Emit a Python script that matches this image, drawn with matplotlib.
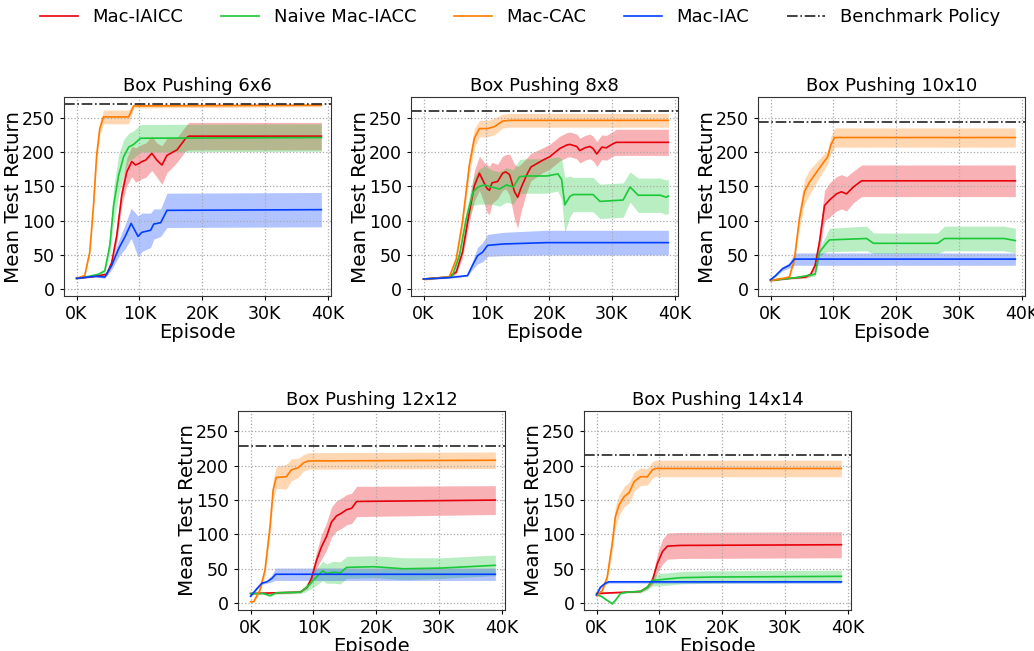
import numpy as np
import matplotlib
matplotlib.use("Agg")
import matplotlib.pyplot as plt
from matplotlib.ticker import FuncFormatter

# colours (seaborn "bright")
C_IAICC = '#e8000b'
C_NAIVE = '#1ac938'
C_CAC = '#ff7c00'
C_IAC = '#023eff'

titles = ['Box Pushing 6x6', 'Box Pushing 8x8', 'Box Pushing 10x10',
          'Box Pushing 12x12', 'Box Pushing 14x14']
benchmark = [270, 260, 244, 229, 216]

# ---------------- 6x6 ----------------
x6_iaicc = [0, 3, 4.8, 5.6, 6.4, 7.2, 8, 8.8, 9.4, 9.9, 10.4, 11, 11.5, 12, 12.8, 13.6, 14.4, 15.2, 16, 17.4, 17.9, 39]
m6_iaicc = [16, 19, 22, 39, 78, 137, 171, 186, 181, 183, 186, 188, 193, 198, 188, 181, 195, 199, 203, 220, 223, 223]
s6_iaicc = [1, 1, 2, 5, 10, 15, 20, 22, 25, 25, 25, 25, 25, 25, 25, 28, 25, 22, 18, 18, 20, 20]
x6_naive = [0, 2, 3.5, 4.5, 5.3, 5.9, 6.7, 7.5, 8.3, 9.1, 10.2, 39]
m6_naive = [16, 19, 22, 27, 64, 122, 166, 193, 207, 211, 220, 221]
s6_naive = [1, 1, 2, 3, 12, 25, 30, 25, 20, 20, 20, 20]
x6_cac = [0, 1.3, 2.1, 2.7, 3.2, 3.7, 4.3, 8.3, 9.1, 39]
m6_cac = [16, 20, 54, 122, 195, 234, 251, 251, 267, 268]
s6_cac = [1, 1, 4, 8, 10, 10, 10, 10, 3, 2]
x6_iac = [0, 3, 4.5, 5.6, 6.7, 7.8, 8.7, 9.8, 10.4, 11.8, 12.3, 13.4, 14.4, 39]
m6_iac = [16, 19, 18, 35, 59, 78, 96, 77, 83, 86, 95, 97, 115, 116]
s6_iac = [1, 1, 2, 6, 12, 18, 22, 30, 28, 25, 22, 20, 25, 25]

# ---------------- 8x8 ----------------
x8_iaicc = [0, 4, 5.2, 6.2, 7.3, 8.1, 8.9, 9.7, 10.1, 10.5, 10.9, 11.8, 12.6, 13.1, 13.7, 14.5, 15, 15.5, 16.4, 17.1,
            19, 20.1, 21.7, 22.8, 23.3, 24.4, 24.9, 25.7, 26.5, 27, 27.6, 28.4, 29.1, 30.2, 30.7, 39]
m8_iaicc = [15, 18, 25, 54, 113, 151, 169, 154, 147, 144, 155, 157, 169, 171, 167, 142, 134, 147, 166, 178,
            188, 193, 205, 210, 211, 208, 202, 206, 208, 205, 197, 207, 206, 212, 214, 214]
s8_iaicc = [1, 1, 3, 8, 15, 22, 25, 30, 35, 35, 30, 25, 25, 25, 30, 40, 45, 35, 25, 20,
            18, 18, 18, 18, 18, 18, 18, 18, 18, 18, 18, 18, 18, 18, 19, 19]
x8_naive = [0, 4, 4.6, 5.7, 6.8, 7.9, 8.7, 9.7, 10.8, 12.1, 13.2, 14.3, 15.3, 16.3, 19.6, 21.4, 22, 22.5,
            23.3, 23.8, 27, 28.1, 31.8, 32.9, 34.2, 37.7, 38.7, 39]
m8_naive = [15, 18, 20, 49, 103, 142, 149, 152, 149, 146, 152, 149, 164, 165, 165, 168, 160, 123,
            135, 138, 138, 128, 130, 149, 137, 137, 134, 136]
s8_naive = [1, 1, 2, 6, 12, 20, 25, 28, 25, 25, 25, 25, 25, 25, 25, 25, 30, 40,
            30, 25, 25, 25, 25, 22, 25, 25, 25, 25]
x8_cac = [0, 3, 4.1, 5.2, 6.2, 7.3, 8.1, 8.9, 10.2, 11.3, 12.6, 13.7, 39]
m8_cac = [15, 17, 18, 44, 98, 181, 220, 234, 234, 237, 245, 246, 246]
s8_cac = [2, 1, 2, 5, 10, 14, 14, 12, 12, 12, 10, 10, 10]
x8_iac = [0, 4, 7, 7.8, 8.6, 9.4, 10.2, 12.7, 19.6, 39]
m8_iac = [15, 17, 20, 35, 49, 54, 64, 66, 68, 68]
s8_iac = [1, 1, 1, 6, 12, 14, 16, 17, 18, 18]

# ---------------- 10x10 ----------------
x10_iaicc = [0, 3, 5.6, 6.4, 7.1, 7.8, 8.6, 9.4, 10.5, 11.3, 12.1, 13.2, 14.5, 39]
m10_iaicc = [13, 16, 18, 22, 35, 69, 122, 130, 139, 142, 139, 149, 158, 158]
s10_iaicc = [1, 1, 2, 3, 6, 15, 22, 25, 25, 25, 25, 23, 23, 23]
x10_naive = [0, 4, 7.1, 7.8, 8.8, 9.4, 15.3, 16.4, 26.6, 27.7, 37.2, 39]
m10_naive = [13, 17, 22, 54, 66, 72, 74, 67, 67, 74, 74, 71]
s10_naive = [1, 1, 3, 6, 12, 17, 18, 15, 15, 18, 18, 18]
x10_cac = [0, 2, 3, 3.8, 4.6, 5.4, 6.2, 7.2, 8.3, 9.1, 9.6, 10.2, 39]
m10_cac = [13, 16, 18, 44, 103, 142, 156, 169, 183, 193, 210, 221, 221]
s10_cac = [1, 1, 2, 6, 14, 18, 18, 15, 12, 10, 12, 14, 14]
x10_iac = [0, 0.8, 1.9, 3, 3.8, 39]
m10_iac = [14, 20, 30, 35, 44, 44]
s10_iac = [1, 2, 3, 4, 9, 9]

# ---------------- 12x12 ----------------
x12_iaicc = [0, 7.9, 9, 9.7, 10.5, 11.3, 12.1, 12.9, 13.7, 14.5, 15.3, 16.1, 16.9, 39]
m12_iaicc = [14, 16, 23, 36, 62, 82, 97, 118, 127, 131, 136, 138, 148, 150]
s12_iaicc = [1, 1, 2, 6, 12, 18, 20, 22, 22, 22, 22, 22, 22, 21]
x12_naive = [0, 2, 3.1, 4.1, 7.9, 8.7, 9.5, 10.5, 11.5, 12.1, 13.2, 14.3, 15.3, 19.6, 24.4, 30.3, 39]
m12_naive = [14, 14, 11, 15, 16, 21, 28, 38, 47, 43, 45, 44, 52, 53, 50, 51, 55]
s12_naive = [1, 1, 2, 2, 2, 5, 8, 12, 14, 14, 16, 16, 16, 16, 16, 15, 15]
x12_cac = [0, 0.5, 1.5, 2.3, 3.1, 3.6, 4.1, 5.7, 6.5, 7.6, 8.4, 9.2, 39]
m12_cac = [2, 2, 19, 48, 111, 165, 183, 184, 194, 197, 204, 207, 208]
s12_cac = [1, 1, 4, 8, 12, 15, 16, 18, 16, 14, 12, 12, 12]
x12_iac = [0, 1, 1.8, 2.6, 3.4, 4, 39]
m12_iac = [10, 21, 29, 31, 36, 42, 42]
s12_iac = [1, 2, 2, 2, 5, 9, 9]

# ---------------- 14x14 ----------------
x14_iaicc = [0, 7, 8.1, 8.9, 9.7, 10.5, 11.3, 13.4, 39]
m14_iaicc = [14, 17, 23, 33, 58, 75, 83, 84, 85]
s14_iaicc = [1, 1, 2, 6, 14, 18, 19, 19, 19]
x14_naive = [0, 0.9, 1.7, 2.5, 3, 3.8, 4.9, 7, 8.1, 8.9, 10, 13.4, 18.7, 39]
m14_naive = [13, 9, 4, -1, 4, 14, 16, 17, 23, 33, 34, 37, 38, 39]
s14_naive = [1, 1, 1, 1, 1, 1, 1, 2, 4, 8, 9, 9, 9, 9]
x14_cac = [0, 0.9, 1.7, 2.5, 3, 3.6, 4.4, 5.2, 6, 7, 8.1, 8.9, 9.4, 39]
m14_cac = [11, 18, 38, 87, 126, 143, 155, 161, 177, 184, 184, 194, 196, 196]
s14_cac = [2, 3, 6, 12, 15, 15, 15, 15, 14, 13, 12, 12, 12, 12]
x14_iac = [0, 0.6, 1.4, 2, 39]
m14_iac = [12, 23, 29, 31, 31]
s14_iac = [1, 2, 2, 2, 2]

panels = [
    [(x6_iaicc, m6_iaicc, s6_iaicc), (x6_naive, m6_naive, s6_naive), (x6_cac, m6_cac, s6_cac), (x6_iac, m6_iac, s6_iac)],
    [(x8_iaicc, m8_iaicc, s8_iaicc), (x8_naive, m8_naive, s8_naive), (x8_cac, m8_cac, s8_cac), (x8_iac, m8_iac, s8_iac)],
    [(x10_iaicc, m10_iaicc, s10_iaicc), (x10_naive, m10_naive, s10_naive), (x10_cac, m10_cac, s10_cac), (x10_iac, m10_iac, s10_iac)],
    [(x12_iaicc, m12_iaicc, s12_iaicc), (x12_naive, m12_naive, s12_naive), (x12_cac, m12_cac, s12_cac), (x12_iac, m12_iac, s12_iac)],
    [(x14_iaicc, m14_iaicc, s14_iaicc), (x14_naive, m14_naive, s14_naive), (x14_cac, m14_cac, s14_cac), (x14_iac, m14_iac, s14_iac)],
]
names = ['Mac-IAICC', 'Naive Mac-IACC', 'Mac-CAC', 'Mac-IAC']
colors = [C_IAICC, C_NAIVE, C_CAC, C_IAC]

fig = plt.figure(figsize=(10.34, 6.51), dpi=100)

W, H = 0.258, 0.306
rects = [(64 / 1034, 0.545, W, H), (411 / 1034, 0.545, W, H), (758 / 1034, 0.545, W, H),
         (238 / 1034, 0.063, W, H), (584 / 1034, 0.063, W, H)]

kfmt = FuncFormatter(lambda v, p: '%dK' % v)

for i, rect in enumerate(rects):
    ax = fig.add_axes(rect)
    for (x, m, s), c, n in zip(panels[i], colors, names):
        x = np.array(x); m = np.array(m); s = np.array(s)
        ax.fill_between(x, m - s, m + s, color=c, alpha=0.3, lw=0)
        ax.plot(x, m, color=c, lw=1.2, label=n)
    ax.axhline(benchmark[i], color='#222222', ls='-.', lw=1.2, label='Benchmark Policy')
    ax.set_xlim(-2, 40.5)
    ax.set_ylim(-10, 280)
    ax.set_xticks([0, 10, 20, 30, 40])
    ax.set_yticks([0, 50, 100, 150, 200, 250])
    ax.xaxis.set_major_formatter(kfmt)
    ax.grid(True, ls=':', color='#aaaaaa', lw=0.9)
    ax.tick_params(labelsize=12.5, length=3)
    ax.set_title(titles[i], fontsize=13, pad=4)
    ax.set_xlabel('Episode', fontsize=14, labelpad=0)
    ax.set_ylabel('Mean Test Return', fontsize=14.3, labelpad=-1)
    for sp in ax.spines.values():
        sp.set_color('#333333')
    if i == 0:
        handles, labels = ax.get_legend_handles_labels()

fig.legend(handles, labels, loc='upper center', bbox_to_anchor=(0.503, 1.012), ncol=5,
           frameon=False, fontsize=13, columnspacing=2.1, handlelength=2.1)

fig.savefig('out.png', dpi=100)
